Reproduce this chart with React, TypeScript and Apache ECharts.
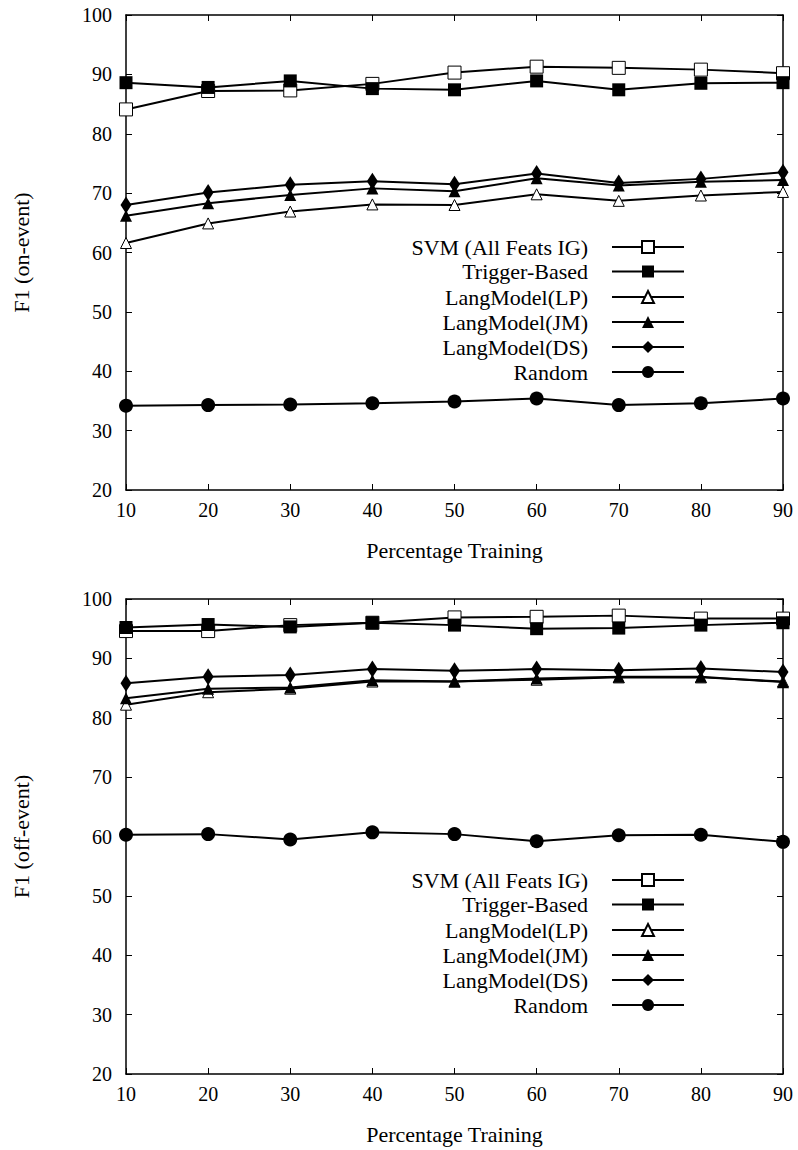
import React, { useEffect, useRef } from "react";
import * as echarts from "echarts";

const xs = [10, 20, 30, 40, 50, 60, 70, 80, 90];
const seriesNames = [
  "SVM (All Feats IG)",
  "Trigger-Based",
  "LangModel(LP)",
  "LangModel(JM)",
  "LangModel(DS)",
  "Random",
];

// Top chart: F1 (on-event)
const onSvm = [84.1, 87.2, 87.3, 88.4, 90.3, 91.3, 91.1, 90.8, 90.2];
const onTrigger = [88.6, 87.8, 88.9, 87.6, 87.4, 88.9, 87.4, 88.5, 88.6];
const onLP = [61.6, 64.9, 66.9, 68.1, 68.0, 69.8, 68.7, 69.6, 70.2];
const onJM = [66.2, 68.3, 69.7, 70.8, 70.3, 72.5, 71.3, 71.9, 72.2];
const onDS = [68.0, 70.1, 71.4, 72.0, 71.5, 73.3, 71.7, 72.4, 73.5];
const onRandom = [34.2, 34.3, 34.4, 34.6, 34.9, 35.4, 34.3, 34.6, 35.4];

// Bottom chart: F1 (off-event)
const offSvm = [94.6, 94.6, 95.6, 96.0, 96.9, 97.0, 97.2, 96.7, 96.7];
const offTrigger = [95.2, 95.7, 95.3, 96.0, 95.6, 95.0, 95.1, 95.6, 96.0];
const offLP = [82.2, 84.3, 84.9, 86.1, 86.1, 86.4, 86.8, 86.8, 86.1];
const offJM = [83.3, 84.9, 85.1, 86.3, 86.1, 86.6, 86.9, 86.9, 86.0];
const offDS = [85.8, 86.9, 87.2, 88.2, 87.9, 88.2, 88.0, 88.3, 87.7];
const offRandom = [60.3, 60.4, 59.5, 60.7, 60.4, 59.2, 60.2, 60.3, 59.1];

const yTicksMin = 20;
const yTicksMax = 100;
const xMin = 10;
const xMax = 90;

const FONT = "'Liberation Serif', serif";
const FS_TICK = 20;
const FS_TEXT = 22;

const markerStyles: any[] = [
  { symbol: "rect", symbolSize: 13, itemStyle: { color: "#fff", borderColor: "#000", borderWidth: 1 } },
  { symbol: "rect", symbolSize: 13, itemStyle: { color: "#000" } },
  { symbol: "triangle", symbolSize: 11, itemStyle: { color: "#fff", borderColor: "#000", borderWidth: 1 } },
  { symbol: "triangle", symbolSize: 12, itemStyle: { color: "#000" } },
  { symbol: "diamond", symbolSize: [11, 17], itemStyle: { color: "#000" } },
  { symbol: "circle", symbolSize: 14, itemStyle: { color: "#000" } },
];

export default function App() {
  const ref = useRef<HTMLDivElement>(null);

  useEffect(() => {
    if (!ref.current) return;
    const chart = echarts.init(ref.current, null, { renderer: "svg" });

    const grids = [
      { left: 126, right: 15, top: 15, height: 475 },
      { left: 126, right: 15, top: 599, height: 475 },
    ];

    const xAxes: any[] = [];
    const yAxes: any[] = [];
    const yNames = ["F1 (on-event)", "F1 (off-event)"];
    grids.forEach((_, gi) => {
      const lineCfg = { show: true, onZero: false, lineStyle: { color: "#000", width: 1.5 } };
      const tickCfg = { show: true, inside: true, length: 6, lineStyle: { color: "#000", width: 1 } };
      xAxes.push({
        type: "value",
        gridIndex: gi,
        min: xMin,
        max: xMax,
        interval: 10,
        position: "bottom",
        axisLine: lineCfg,
        axisTick: tickCfg,
        splitLine: { show: false },
        axisLabel: { color: "#000", fontFamily: FONT, fontSize: FS_TICK, margin: 10 },
        name: "Percentage Training",
        nameLocation: "middle",
        nameGap: 49,
        nameTextStyle: { color: "#000", fontFamily: FONT, fontSize: FS_TEXT },
      });
      xAxes.push({
        type: "value",
        gridIndex: gi,
        min: xMin,
        max: xMax,
        interval: 10,
        position: "top",
        axisLine: lineCfg,
        axisTick: tickCfg,
        splitLine: { show: false },
        axisLabel: { show: false },
      });
      yAxes.push({
        type: "value",
        gridIndex: gi,
        min: yTicksMin,
        max: yTicksMax,
        interval: 10,
        position: "left",
        axisLine: lineCfg,
        axisTick: tickCfg,
        splitLine: { show: false },
        axisLabel: { color: "#000", fontFamily: FONT, fontSize: FS_TICK, margin: 14 },
        name: yNames[gi],
        nameLocation: "middle",
        nameRotate: 90,
        nameGap: 94,
        nameTextStyle: { color: "#000", fontFamily: FONT, fontSize: FS_TEXT },
      });
      yAxes.push({
        type: "value",
        gridIndex: gi,
        min: yTicksMin,
        max: yTicksMax,
        interval: 10,
        position: "right",
        axisLine: lineCfg,
        axisTick: tickCfg,
        splitLine: { show: false },
        axisLabel: { show: false },
      });
    });

    const dataSets = [
      [onSvm, onTrigger, onLP, onJM, onDS, onRandom],
      [offSvm, offTrigger, offLP, offJM, offDS, offRandom],
    ];

    const series: any[] = [];
    dataSets.forEach((set, gi) => {
      set.forEach((vals, si) => {
        series.push({
          type: "line",
          name: seriesNames[si],
          xAxisIndex: gi * 2,
          yAxisIndex: gi * 2,
          data: xs.map((x, i) => [x, vals[i]]),
          symbol: markerStyles[si].symbol,
          symbolSize: markerStyles[si].symbolSize,
          showAllSymbol: true,
          itemStyle: markerStyles[si].itemStyle,
          lineStyle: { color: "#000", width: 2 },
          emphasis: { disabled: true },
          z: 2 + si,
        });
      });
    });

    const legendRows = [0, 24.5, 50, 75, 100, 125];
    const legendStarts = [248, 881];
    const legends: any[] = [];
    legendStarts.forEach((start) => {
      seriesNames.forEach((nm, si) => {
        legends.push({
          data: [nm],
          right: 113,
          top: start + legendRows[si] - 12,
          orient: "horizontal",
          align: "right",
          padding: 0,
          itemWidth: 72,
          itemHeight: 15,
          selectedMode: false,
          textStyle: {
            color: "#000",
            fontFamily: FONT,
            fontSize: FS_TEXT,
            padding: [0, 19, 0, 0],
          },
        });
      });
    });

    chart.setOption({
      animation: false,
      backgroundColor: "#fff",
      textStyle: { fontFamily: FONT },
      grid: grids,
      xAxis: xAxes,
      yAxis: yAxes,
      legend: legends,
      series,
    });

    return () => chart.dispose();
  }, []);

  return (
    <div
      ref={ref}
      style={{ position: "absolute", left: 0, top: 0, width: 798, height: 1150 }}
    />
  );
}
